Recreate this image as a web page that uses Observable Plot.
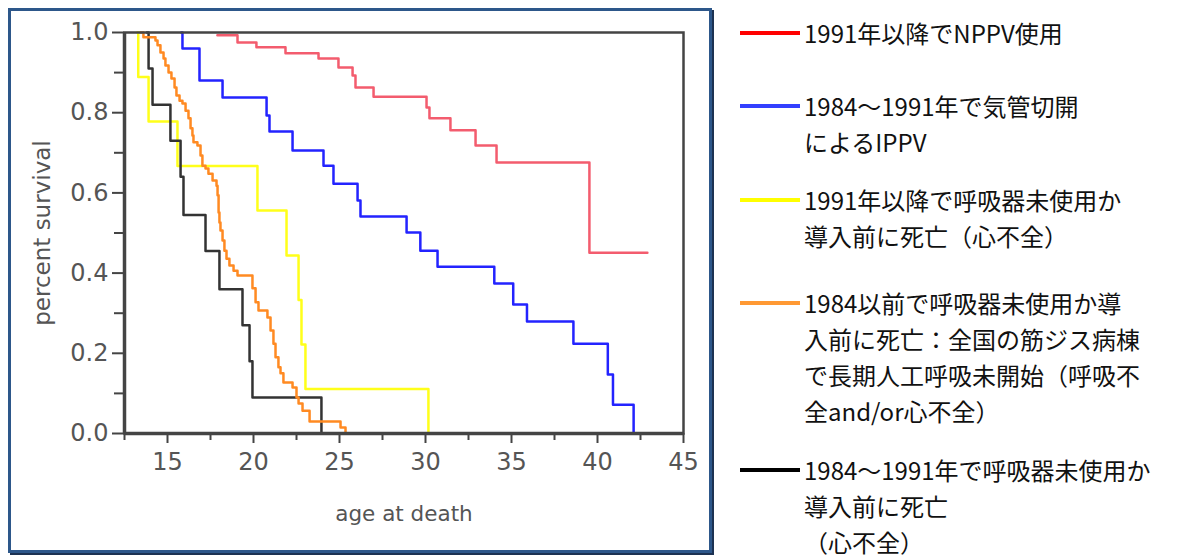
<!DOCTYPE html>
<html><head><meta charset="utf-8">
<script src="https://cdn.jsdelivr.net/npm/d3@7"></script>
<script src="https://cdn.jsdelivr.net/npm/@observablehq/plot@0.6"></script>
<style>
body{margin:0;background:#fff;}
#wrap{position:relative;width:1183px;height:558px;overflow:hidden;background:#fff;}
#border{position:absolute;left:8px;top:8px;width:698px;height:539px;border:3px solid #2d578a;box-shadow:2px 2px 0 #1c3252;}
#chart{position:absolute;left:0;top:0;}
#chart svg, #chart svg text{font-family:"DejaVu Sans", Verdana, sans-serif !important;}
#chart g[aria-label="tick-labels"] text{font-size:24px !important;}
.item{position:absolute;left:740px;}
.sw{position:absolute;left:0;width:60px;height:4px;}
.txt{position:absolute;left:64px;top:0;white-space:nowrap;font-family:"Noto Sans CJK JP";font-size:24px;line-height:36px;color:#111;}
</style></head>
<body>
<div id="wrap"><div id="border"></div><div id="chart"></div></div>
<script>
// ---- data ----
const redAge  = [17.9, 19.07, 20.17, 21.86, 23.78, 24.94, 25.76, 25.93, 26.98, 30.06, 30.23, 31.45, 32.91, 34.13, 39.53, 42.9];
const redSurv = [0.993, 0.975, 0.963, 0.948, 0.935, 0.913, 0.893, 0.863, 0.840, 0.813, 0.786, 0.756, 0.718, 0.676, 0.451, 0.451];

const blueAge  = [15.8, 15.87, 16.86, 18.20, 20.76, 20.93, 22.27, 24.07, 24.65, 26.05, 26.22, 28.9, 29.7, 30.7, 34.0, 35.1, 35.9, 38.6, 40.6, 40.9, 42.1];
const blueSurv = [1.0, 0.96, 0.88, 0.838, 0.793, 0.753, 0.706, 0.668, 0.623, 0.581, 0.541, 0.501, 0.456, 0.416, 0.374, 0.322, 0.279, 0.224, 0.147, 0.072, 0];

const yellowAge  = [13.25, 13.3, 13.9, 15.58, 20.23, 21.92, 22.62, 22.79, 23.02, 30.17];
const yellowSurv = [1.0, 0.889, 0.778, 0.667, 0.556, 0.444, 0.333, 0.222, 0.111, 0];

const blackAge  = [13.8, 13.9, 14.13, 15.17, 15.76, 15.93, 17.21, 18.02, 19.36, 19.77, 19.94, 23.95];
const blackSurv = [1.0, 0.91, 0.82, 0.73, 0.64, 0.545, 0.455, 0.36, 0.27, 0.18, 0.09, 0];

const orangeAge  = [13.43, 13.6, 14.3, 14.42, 14.59, 14.77, 14.88, 15.06, 15.23, 15.41, 15.52, 15.7, 15.87, 16.05, 16.22, 16.34, 16.45, 16.51, 16.74, 16.92, 17.03, 17.21, 17.38, 17.62, 17.85, 17.91, 17.97, 18.02, 18.08, 18.2, 18.31, 18.43, 18.6, 18.84, 19.07, 19.94, 20.12, 20.29, 20.81, 20.99, 21.16, 21.28, 21.45, 21.57, 21.74, 22.27, 22.5, 22.62, 22.85, 23.26, 25.06, 25.35];
const orangeSurv = [1.0, 0.988, 0.98, 0.968, 0.95, 0.935, 0.918, 0.9, 0.885, 0.863, 0.843, 0.83, 0.823, 0.805, 0.786, 0.761, 0.743, 0.726, 0.718, 0.693, 0.668, 0.661, 0.648, 0.631, 0.618, 0.594, 0.551, 0.526, 0.506, 0.481, 0.456, 0.436, 0.419, 0.406, 0.394, 0.362, 0.327, 0.307, 0.289, 0.257, 0.224, 0.19, 0.165, 0.15, 0.127, 0.115, 0.09, 0.075, 0.057, 0.03, 0.015, 0];

const xTicks = [15, 20, 25, 30, 35, 40, 45];
const xMinorTicks = [12.5, 17.5, 22.5, 27.5, 32.5, 37.5, 42.5];
const yTicks = [0, 0.2, 0.4, 0.6, 0.8, 1.0];
const yMinorTicks = [0.1, 0.3, 0.5, 0.7, 0.9];

const xLabel = "age at death";
const yLabel = "percent survival";

const legendRed    = ["1991年以降でNPPV使用"];
const legendBlue   = ["1984～1991年で気管切開", "によるIPPV"];
const legendYellow = ["1991年以降で呼吸器未使用か", "導入前に死亡（心不全）"];
const legendOrange = ["1984以前で呼吸器未使用か導", "入前に死亡：全国の筋ジス病棟", "で長期人工呼吸未開始（呼吸不", "全and/or心不全）"];
const legendBlack  = ["1984～1991年で呼吸器未使用か", "導入前に死亡", "（心不全）"];

// ---- build ----
const groups = [
  {key: "red",    age: redAge,    surv: redSurv,    line: "#f35c6e", sw: "#ff0000", legend: legendRed,    top: 33},
  {key: "blue",   age: blueAge,   surv: blueSurv,   line: "#2323ff", sw: "#3340ff", legend: legendBlue,   top: 106},
  {key: "yellow", age: yellowAge, surv: yellowSurv, line: "#ffff1a", sw: "#ffff00", legend: legendYellow, top: 200},
  {key: "black",  age: blackAge,  surv: blackSurv,  line: "#333333", sw: "#000000", legend: legendBlack,  top: 470},
  {key: "orange", age: orangeAge, surv: orangeSurv, line: "#ff8a22", sw: "#ff9933", legend: legendOrange, top: 303}
];
const rows = groups.flatMap(g => g.age.map((a, i) => ({group: g.key, age: a, surv: g.surv[i]})));

const axisColor = "#444";
const labelColor = "#555";
const tickFont = 24;
const chart = Plot.plot({
  width: 720, height: 558,
  marginLeft: 124, marginRight: 37, marginTop: 32, marginBottom: 125,
  x: {domain: [12.5, 45], axis: null, label: null},
  y: {domain: [0, 1], axis: null, label: null},
  style: {fontFamily: "DejaVu Sans", fontSize: "21px", color: labelColor, background: "transparent", overflow: "visible"},
  marks: [
    Plot.axisX(xMinorTicks, {tickSize: 7, tickFormat: () => "", stroke: axisColor, strokeWidth: 2, label: null}),
    Plot.axisX(xTicks, {tickSize: 10, tickFormat: () => "", stroke: axisColor, strokeWidth: 2, label: null}),
    Plot.axisY(yMinorTicks, {tickSize: 10, tickFormat: () => "", stroke: axisColor, strokeWidth: 2, label: null}),
    Plot.axisY(yTicks, {tickSize: 12, tickFormat: () => "", stroke: axisColor, strokeWidth: 2, label: null}),
    Plot.text(xTicks, {x: d => d, text: d => String(d), frameAnchor: "bottom", dy: 36, fill: labelColor, fontSize: tickFont, ariaLabel: "tick-labels"}),
    Plot.text(yTicks, {y: d => d, text: d3.format(".1f"), frameAnchor: "left", textAnchor: "end", dx: -16, fill: labelColor, fontSize: tickFont, ariaLabel: "tick-labels"}),
    ...groups.map(g => Plot.line(rows.filter(r => r.group === g.key), {x: "age", y: "surv", curve: "step-after", stroke: g.line, strokeWidth: 2.5})),
    Plot.frame({stroke: axisColor, strokeWidth: 2.5}),
    Plot.ruleX([12.5], {stroke: axisColor, strokeWidth: 3.5}),
    Plot.ruleY([0], {stroke: axisColor, strokeWidth: 3.5}),
    Plot.text([xLabel], {text: d => d, frameAnchor: "bottom", textAnchor: "middle", dy: 87, fill: labelColor, fontSize: 21.5}),
    Plot.text([yLabel], {text: d => d, frameAnchor: "left", textAnchor: "middle", dx: -82, rotate: -90, fill: labelColor, fontSize: 23})
  ]
});
document.getElementById("chart").appendChild(chart);

// legend
const wrap = d3.select("#wrap");
const LH = 36;
groups.slice().sort((a, b) => a.top - b.top).forEach(g => {
  const item = wrap.append("div").attr("class", "item").style("top", (g.top - LH / 2) + "px");
  item.append("div").attr("class", "sw").style("top", (LH / 2 - 2) + "px").style("background", g.sw);
  const t = item.append("div").attr("class", "txt");
  g.legend.forEach(line => t.append("div").text(line));
});
</script>
</body></html>
